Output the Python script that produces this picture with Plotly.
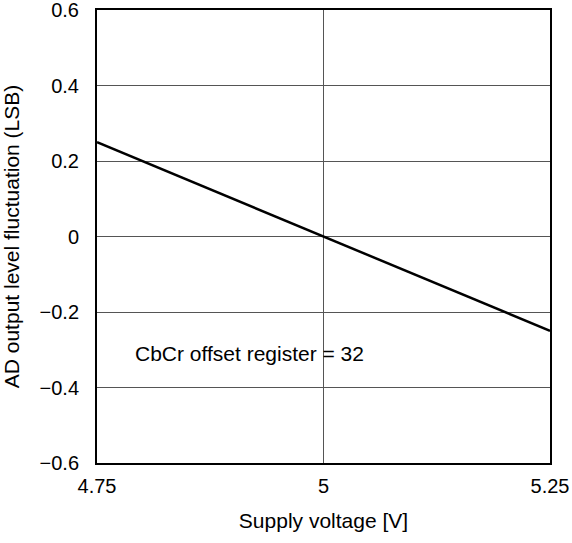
import plotly.graph_objects as go

voltage = [4.75, 5.25]
fluctuation = [0.25, -0.25]
x_ticks = [4.75, 5, 5.25]
x_tick_labels = ["4.75", "5", "5.25"]
y_ticks = [-0.6, -0.4, -0.2, 0, 0.2, 0.4, 0.6]
y_tick_labels = ["\u22120.6", "\u22120.4", "\u22120.2", "0", "0.2", "0.4", "0.6"]

family = "Liberation Sans, Arial, sans-serif"
font = dict(family=family, size=21, color="black")
tick_font = dict(family=family, size=20, color="black")

fig = go.Figure()
fig.add_trace(go.Scatter(x=voltage, y=fluctuation, mode="lines",
                         line=dict(color="black", width=2.5), showlegend=False))

fig.add_annotation(x=4.79, y=-0.31, xref="x", yref="y", text="CbCr offset register = 32",
                   showarrow=False, xanchor="left", yanchor="middle", font=font)

fig.update_layout(
    width=572, height=543,
    margin=dict(l=97, r=22, t=10, b=80, autoexpand=False),
    paper_bgcolor="white", plot_bgcolor="white",
    font=font,
    xaxis=dict(range=[4.75, 5.25], tickvals=x_ticks, ticktext=x_tick_labels,
               tickfont=tick_font,
               showgrid=True, gridcolor="#555555", gridwidth=1,
               showline=True, linecolor="black", linewidth=2, mirror=True,
               ticks="outside", ticklen=4, tickcolor="rgba(0,0,0,0)", zeroline=False,
               automargin=False, ticklabeloverflow="allow",
               title=dict(text="Supply voltage [V]", font=font, standoff=17)),
    yaxis=dict(range=[-0.6, 0.6], tickvals=y_ticks, ticktext=y_tick_labels,
               tickfont=tick_font,
               showgrid=True, gridcolor="#555555", gridwidth=1,
               showline=True, linecolor="black", linewidth=2, mirror=True,
               ticks="outside", ticklen=12, tickcolor="rgba(0,0,0,0)", zeroline=False,
               automargin=False, ticklabeloverflow="allow",
               title=dict(text="AD output level fluctuation (LSB)", font=font, standoff=16)),
)
fig.write_html("out.html", post_script="document.body.style.margin='0';",
               config={"displayModeBar": False})
